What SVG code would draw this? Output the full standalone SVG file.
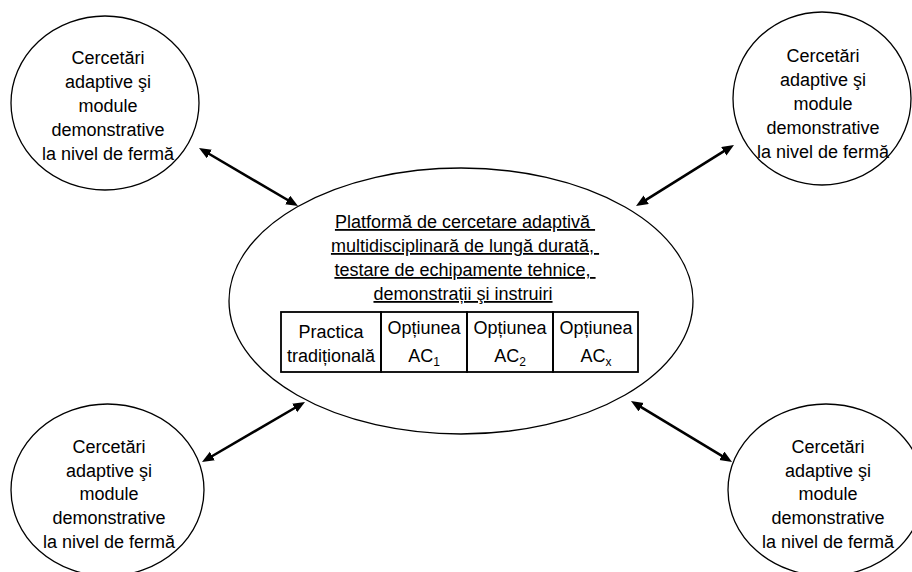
<svg xmlns="http://www.w3.org/2000/svg" width="912" height="572" viewBox="0 0 912 572">
<style>
  text { font-family: "Liberation Sans", Arial, sans-serif; font-size: 18px; fill: #000; text-anchor: middle; }
  .ell { fill: #fff; stroke: #000; stroke-width: 1.3; }
  .cell { fill: none; stroke: #000; stroke-width: 1.8; }
  .arr { stroke: #000; stroke-width: 2.6; fill: none; marker-start: url(#ah); marker-end: url(#ah); }
  .u { text-decoration: underline; }
  .sub { font-size: 12px; }
</style>
<defs>
  <marker id="ah" markerUnits="userSpaceOnUse" markerWidth="13" markerHeight="11" refX="4" refY="5" orient="auto-start-reverse">
    <path d="M0,0 L12,5 L0,10 z" fill="#000"/>
  </marker>
</defs>
<g id="connectors">
  <line class="arr" x1="205.9" y1="152.0" x2="291.1" y2="202.0"/>
  <line class="arr" x1="642.8" y1="201.8" x2="727.2" y2="149.2"/>
  <line class="arr" x1="208.9" y1="458.0" x2="298.1" y2="406.0"/>
  <line class="arr" x1="637.8" y1="405.1" x2="725.2" y2="457.9"/>
</g>
<g id="node-top-left">
  <ellipse class="ell" cx="105" cy="103" rx="94" ry="87"/>
  <text x="108" y="64">Cercetări</text>
  <text x="108" y="88">adaptive şi</text>
  <text x="108" y="112">module</text>
  <text x="108" y="136">demonstrative</text>
  <text x="108" y="160">la nivel de fermă</text>
</g>
<g id="node-top-right">
  <ellipse class="ell" cx="822" cy="98.5" rx="89" ry="86.5"/>
  <text x="823" y="62">Cercetări</text>
  <text x="823" y="86">adaptive şi</text>
  <text x="823" y="110">module</text>
  <text x="823" y="134">demonstrative</text>
  <text x="823" y="158">la nivel de fermă</text>
</g>
<g id="node-bottom-left">
  <ellipse class="ell" cx="107.5" cy="490" rx="96.5" ry="86"/>
  <text x="109" y="453">Cercetări</text>
  <text x="109" y="477">adaptive şi</text>
  <text x="109" y="500">module</text>
  <text x="109" y="524">demonstrative</text>
  <text x="109" y="548">la nivel de fermă</text>
</g>
<g id="node-bottom-right">
  <ellipse class="ell" cx="826" cy="490" rx="98" ry="86"/>
  <text x="828" y="453">Cercetări</text>
  <text x="828" y="477">adaptive şi</text>
  <text x="828" y="500">module</text>
  <text x="828" y="524">demonstrative</text>
  <text x="828" y="548">la nivel de fermă</text>
</g>
<g id="node-center">
  <ellipse class="ell" cx="461" cy="301" rx="232" ry="133"/>
  <text class="u" x="465" y="228" xml:space="preserve">Platformă de cercetare adaptivă </text>
  <text class="u" x="465" y="252" xml:space="preserve">multidisciplinară de lungă durată, </text>
  <text class="u" x="465" y="276" xml:space="preserve">testare de echipamente tehnice, </text>
  <text class="u" x="463" y="300">demonstrații şi instruiri</text>
  <g id="table">
    <rect class="cell" x="281" y="312" width="100" height="60"/>
    <rect class="cell" x="381" y="312" width="86" height="60"/>
    <rect class="cell" x="467" y="312" width="86" height="60"/>
    <rect class="cell" x="553" y="312" width="85" height="60"/>
    <text x="331" y="338">Practica</text>
    <text x="331" y="362">tradițională</text>
    <text x="424" y="334">Opțiunea</text>
    <text x="424" y="362">AC<tspan class="sub" dy="4">1</tspan></text>
    <text x="510" y="334">Opțiunea</text>
    <text x="510" y="362">AC<tspan class="sub" dy="4">2</tspan></text>
    <text x="596" y="334">Opțiunea</text>
    <text x="596" y="362">AC<tspan class="sub" dy="4">x</tspan></text>
  </g>
</g>
</svg>
